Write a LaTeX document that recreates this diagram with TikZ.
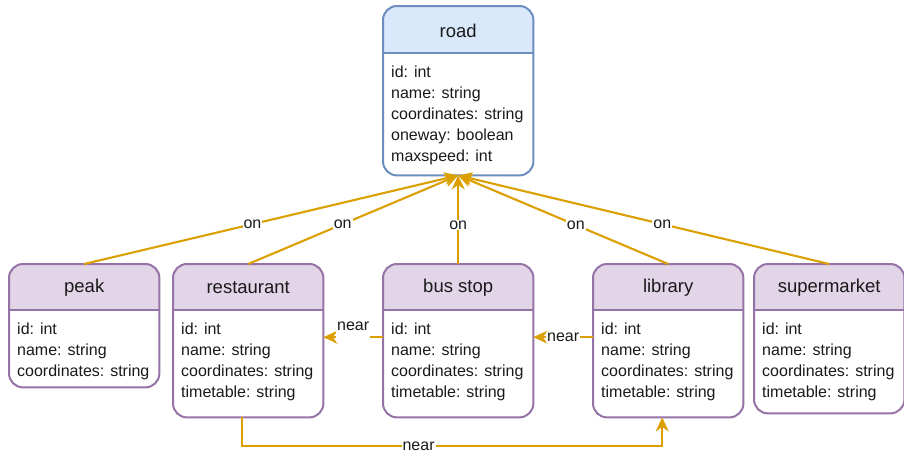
\documentclass[tikz,border=0pt]{standalone}
\usepackage{fontspec}
\setmainfont{Liberation Sans}
\usetikzlibrary{arrows.meta}

\definecolor{blueline}{HTML}{6C8EBF}
\definecolor{bluefill}{HTML}{DAE8FC}
\definecolor{purpleline}{HTML}{9673A6}
\definecolor{purplefill}{HTML}{E1D5E7}
\definecolor{relcol}{HTML}{DBA000}
\definecolor{ink}{HTML}{1A1A1A}

\tikzset{
  titletext/.style={font=\fontsize{18.5}{22}\selectfont, text=ink, inner sep=0pt},
  fieldtext/.style={font=\fontsize{16}{21}\selectfont, text=ink, align=left, inner sep=0pt},
  rel/.style={draw=relcol, line width=2.1pt, -{Stealth[length=14pt, width=13pt, inset=4.5pt]}},
  lbl/.style={fill=white, inner sep=1pt, font=\fontsize{16}{18}\selectfont, text=ink},
}

% entity box: name, left x, top y, height, header height, colour scheme, title, fields
\newcommand\erentity[8]{%
  \node[minimum width=150pt, minimum height=#4pt, inner sep=0pt, anchor=north west] (#1) at (#2,#3) {};
  \begin{scope}
    \clip[rounded corners=14pt] (#1.north west) rectangle (#1.south east);
    \fill[white] (#1.north west) rectangle (#1.south east);
    \fill[#6fill] (#1.north west) rectangle ([yshift=-#5pt]#1.north east);
  \end{scope}
  \draw[#6line, line width=2pt] ([yshift=-#5pt]#1.north west) -- ([yshift=-#5pt]#1.north east);
  \draw[#6line, line width=2pt, rounded corners=14pt] (#1.north west) rectangle (#1.south east);
  \node[titletext] (#1-title) at ([yshift={-#5pt/2-1pt}]#1.north) {#7};
  \node[fieldtext, anchor=north west] (#1-fields) at ([xshift=8pt, yshift={-#5pt-13pt}]#1.north west) {#8};
}

\begin{document}
\begin{tikzpicture}[x=1pt, y=-1pt]
  \useasboundingbox[fill=white] (0,0) rectangle (904,455);

  \erentity{road}{383}{6}{169}{47}{blue}{road}{id: int\\name: string\\coordinates: string\\oneway: boolean\\maxspeed: int}
  \erentity{peak}{9}{264}{123}{46}{purple}{peak}{id: int\\name: string\\coordinates: string}
  \erentity{restaurant}{173}{264}{153}{46}{purple}{restaurant}{id: int\\name: string\\coordinates: string\\timetable: string}
  \erentity{busstop}{383}{264}{153}{46}{purple}{bus stop}{id: int\\name: string\\coordinates: string\\timetable: string}
  \erentity{library}{593}{264}{153}{46}{purple}{library}{id: int\\name: string\\coordinates: string\\timetable: string}
  \erentity{supermarket}{754}{264}{149}{46}{purple}{supermarket}{id: int\\name: string\\coordinates: string\\timetable: string}

  % every place lies on a road
  \draw[rel] (peak.north) -- node[lbl, pos=0.45] {on} (road.south);
  \draw[rel] (restaurant.north) -- node[lbl, pos=0.45] {on} (road.south);
  \draw[rel] (busstop.north) -- node[lbl, pos=0.44] {on} (road.south);
  \draw[rel] (library.north) -- node[lbl, pos=0.44] {on} (road.south);
  \draw[rel] (supermarket.north) -- node[lbl, pos=0.45] {on} (road.south);

  % proximity relations
  \draw[rel] ([yshift=3.5pt]busstop.west) -- node[lbl, anchor=south, yshift=-3pt, text depth=8pt] {near} ([yshift=3.5pt]restaurant.east);
  \draw[rel] ([yshift=3.5pt]library.west) -- node[lbl] {near} ([yshift=3.5pt]busstop.east);
  \draw[rel] ([xshift=-6pt]restaurant.south) -- ++(0,29) -| node[lbl, pos=0.21] {near} ([xshift=-6pt]library.south);
\end{tikzpicture}
\end{document}
